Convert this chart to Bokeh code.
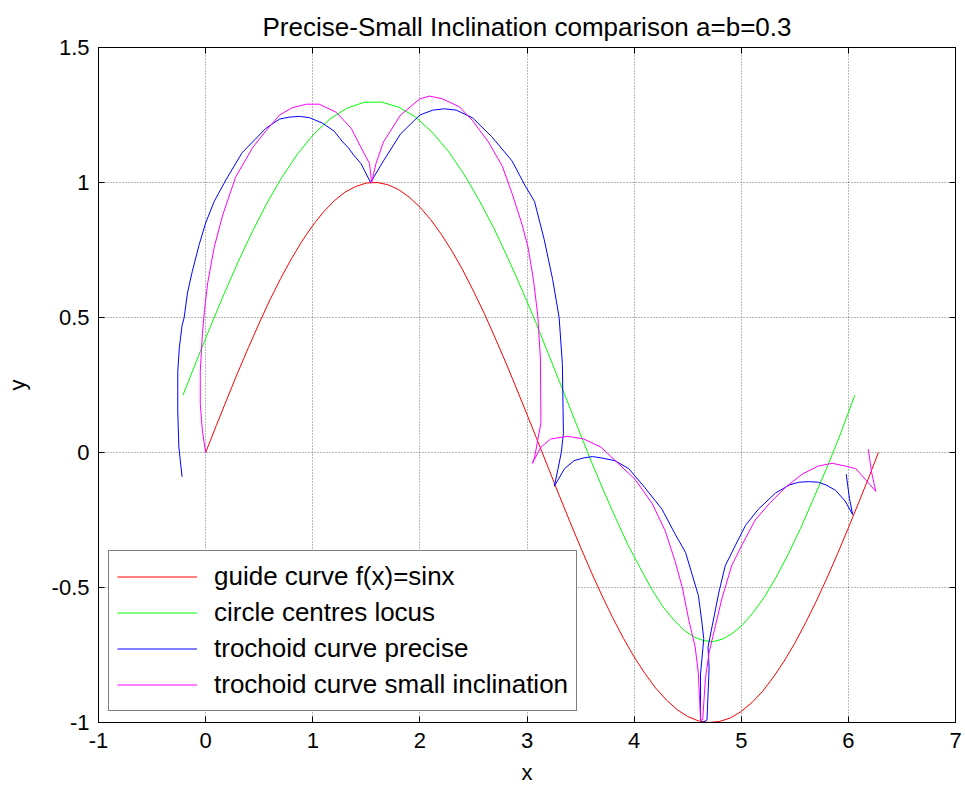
from bokeh.plotting import figure
from bokeh.models import (LinearAxis, FixedTicker, CustomJSTickFormatter, Legend,
                          LegendItem, Range1d)
from bokeh.embed import file_html
from bokeh.resources import INLINE

# ---------------- data ----------------
x_ticks = [-1, 0, 1, 2, 3, 4, 5, 6, 7]
y_ticks = [-1, -0.5, 0, 0.5, 1, 1.5]

guide_x = [0.0, 0.1, 0.2, 0.3, 0.4, 0.5, 0.6, 0.7, 0.8, 0.9, 1.0, 1.1, 1.2, 1.3, 1.4,
           1.5, 1.6, 1.7, 1.8, 1.9, 2.0, 2.1, 2.2, 2.3, 2.4, 2.5, 2.6, 2.7, 2.8, 2.9,
           3.0, 3.1, 3.2, 3.3, 3.4, 3.5, 3.6, 3.7, 3.8, 3.9, 4.0, 4.1, 4.2, 4.3, 4.4,
           4.5, 4.6, 4.7, 4.8, 4.9, 5.0, 5.1, 5.2, 5.3, 5.4, 5.5, 5.6, 5.7, 5.8, 5.9,
           6.0, 6.1, 6.2, 6.28]
guide_y = [0.0, 0.1, 0.199, 0.296, 0.389, 0.479, 0.565, 0.644, 0.717, 0.783, 0.841,
           0.891, 0.932, 0.964, 0.985, 0.998, 1.0, 0.992, 0.974, 0.946, 0.909, 0.863,
           0.808, 0.746, 0.676, 0.598, 0.516, 0.427, 0.335, 0.239, 0.141, 0.042,
           -0.058, -0.158, -0.256, -0.351, -0.443, -0.53, -0.612, -0.688, -0.757,
           -0.818, -0.872, -0.916, -0.952, -0.978, -0.994, -1.0, -0.996, -0.983,
           -0.959, -0.926, -0.884, -0.832, -0.773, -0.706, -0.631, -0.551, -0.465,
           -0.374, -0.279, -0.182, -0.083, 0.0]

centre_x = [-0.212, -0.086, 0.041, 0.171, 0.302, 0.436, 0.573, 0.713, 0.857, 1.006,
            1.160, 1.318, 1.479, 1.641, 1.803, 1.961, 2.115, 2.265, 2.410, 2.550,
            2.688, 2.822, 2.954, 3.083, 3.211, 3.337, 3.461, 3.584, 3.705, 3.824,
            3.940, 4.054, 4.164, 4.270, 4.372, 4.469, 4.562, 4.651, 4.739, 4.827,
            4.918, 5.013, 5.113, 5.218, 5.327, 5.439, 5.554, 5.672, 5.792, 5.914,
            6.060]
centre_y = [0.212, 0.338, 0.463, 0.586, 0.705, 0.818, 0.924, 1.020, 1.105, 1.178,
            1.235, 1.275, 1.297, 1.298, 1.279, 1.242, 1.186, 1.116, 1.032, 0.937,
            0.833, 0.720, 0.602, 0.481, 0.354, 0.229, 0.105, -0.018, -0.132, -0.240,
            -0.340, -0.426, -0.506, -0.572, -0.621, -0.659, -0.684, -0.697, -0.700,
            -0.691, -0.670, -0.638, -0.592, -0.534, -0.461, -0.376, -0.281, -0.173,
            -0.063, 0.056, 0.212]

precise_x = [-0.22, -0.25, -0.26, -0.26, -0.245, -0.22, -0.20, -0.17, -0.125, -0.06,
             0.0, 0.08, 0.19, 0.34, 0.56, 0.69, 0.78, 0.875, 0.97, 1.09, 1.20, 1.28,
             1.33, 1.375, 1.45, 1.54, 1.66, 1.82, 2.00, 2.12, 2.23, 2.34, 2.49, 2.67,
             2.86, 2.98, 3.07, 3.16, 3.24, 3.30, 3.33, 3.34, 3.32, 3.29, 3.255, 3.35,
             3.44, 3.53, 3.61, 3.69, 3.82, 3.95, 4.10, 4.26, 4.38, 4.48, 4.54, 4.60,
             4.63, 4.65, 4.62, 4.62, 4.64, 4.68, 4.70, 4.69, 4.73, 4.79, 4.85, 4.95,
             5.04, 5.16, 5.32, 5.45, 5.54, 5.63, 5.72, 5.79, 5.88, 5.97, 6.04, 6.01,
             5.98]
precise_y = [-0.09, 0.02, 0.15, 0.30, 0.39, 0.47, 0.50, 0.59, 0.67, 0.77, 0.85, 0.93,
             1.01, 1.11, 1.20, 1.235, 1.242, 1.245, 1.24, 1.22, 1.19, 1.15, 1.13,
             1.105, 1.07, 1.00, 1.08, 1.18, 1.25, 1.268, 1.273, 1.268, 1.24, 1.17,
             1.08, 0.99, 0.93, 0.79, 0.64, 0.50, 0.33, 0.07, 0.0, -0.06, -0.125,
             -0.06, -0.03, -0.02, -0.015, -0.02, -0.03, -0.06, -0.13, -0.21, -0.30,
             -0.37, -0.45, -0.53, -0.62, -0.69, -0.82, -0.99, -1.0, -0.99, -0.80,
             -0.72, -0.64, -0.52, -0.42, -0.34, -0.27, -0.21, -0.15, -0.12, -0.11,
             -0.108, -0.11, -0.12, -0.14, -0.18, -0.23, -0.17, -0.08]

small_x = [0.0, -0.03, -0.05, -0.05, -0.03, -0.01, 0.02, 0.08, 0.16, 0.28, 0.44, 0.56,
           0.69, 0.81, 0.94, 1.06, 1.22, 1.36, 1.45, 1.53, 1.55, 1.59, 1.66, 1.82,
           2.00, 2.09, 2.21, 2.37, 2.49, 2.64, 2.77, 2.86, 2.95, 3.01, 3.06, 3.10,
           3.125, 3.13, 3.07, 3.05, 3.13, 3.22, 3.38, 3.53, 3.69, 3.85, 4.01, 4.17,
           4.29, 4.38, 4.45, 4.51, 4.57, 4.60, 4.62, 4.64, 4.665, 4.70, 4.76, 4.82,
           4.91, 5.01, 5.13, 5.26, 5.41, 5.57, 5.72, 5.85, 5.97, 6.07, 6.16, 6.256,
           6.22, 6.19, 6.185]
small_y = [0.0, 0.08, 0.18, 0.30, 0.44, 0.53, 0.63, 0.76, 0.88, 1.02, 1.13, 1.19,
           1.25, 1.277, 1.29, 1.29, 1.26, 1.20, 1.13, 1.07, 1.00, 1.07, 1.15, 1.25,
           1.31, 1.32, 1.31, 1.28, 1.23, 1.15, 1.06, 0.96, 0.85, 0.76, 0.64, 0.51,
           0.35, 0.11, -0.02, -0.04, 0.02, 0.05, 0.06, 0.05, 0.02, -0.04, -0.10,
           -0.19, -0.29, -0.40, -0.50, -0.62, -0.72, -0.82, -0.99, -0.99, -0.84,
           -0.74, -0.64, -0.54, -0.42, -0.34, -0.25, -0.19, -0.13, -0.08, -0.05,
           -0.04, -0.05, -0.06, -0.10, -0.144, -0.08, 0.0, 0.012]

series_names = ["guide curve f(x)=sinx", "circle centres locus",
                "trochoid curve precise", "trochoid curve small inclination"]
series_colors = ["#ff0000", "#00ff00", "#0000ff", "#ff00ff"]

FONT = "Liberation Sans"

# ---------------- figure ----------------
p = figure(width=965, height=791, output_backend="svg", toolbar_location=None,
           x_range=Range1d(-1, 7), y_range=Range1d(-1, 1.5),
           min_border_left=98, min_border_right=10, min_border_top=47,
           min_border_bottom=69, background_fill_color="white",
           border_fill_color="white")

p.title.text = "Precise-Small Inclination comparison a=b=0.3"
p.title.align = "center"
p.title.text_font = FONT
p.title.text_font_size = "26px"
p.title.text_font_style = "normal"
p.title.text_color = "black"
p.title.standoff = 12

fmt = CustomJSTickFormatter(code="return tick.toString();")

for ax in p.xaxis:
    ax.ticker = FixedTicker(ticks=x_ticks)
for ax in p.yaxis:
    ax.ticker = FixedTicker(ticks=y_ticks)

for ax in list(p.xaxis) + list(p.yaxis):
    ax.formatter = fmt
    ax.major_tick_in = 6
    ax.major_tick_out = 0
    ax.minor_tick_line_color = None
    ax.axis_line_color = "black"
    ax.major_tick_line_color = "black"
    ax.major_label_text_font = FONT
    ax.major_label_text_font_size = "22px"
    ax.major_label_text_color = "black"
    ax.axis_label_text_font = FONT
    ax.axis_label_text_font_size = "22px"
    ax.axis_label_text_font_style = "normal"
    ax.axis_label_text_color = "black"

p.xaxis.major_label_standoff = 10
p.yaxis.major_label_standoff = 9
p.xaxis.axis_label = "x"
p.yaxis.axis_label = "y"
p.yaxis.axis_label_standoff = 19
p.xaxis.axis_label_standoff = 9

# mirrored tick marks on the top and right edges (box style), no labels
top_ax = LinearAxis(ticker=FixedTicker(ticks=x_ticks), major_tick_in=6, major_tick_out=0,
                    minor_tick_line_color=None, major_label_text_color=None,
                    major_label_text_font_size="1px", major_label_standoff=0,
                    axis_line_color="black")
right_ax = LinearAxis(ticker=FixedTicker(ticks=y_ticks), major_tick_in=6, major_tick_out=0,
                      minor_tick_line_color=None, major_label_text_color=None,
                      major_label_text_font_size="1px", major_label_standoff=0,
                      axis_line_color="black")
p.add_layout(top_ax, "above")
p.add_layout(right_ax, "right")

p.outline_line_color = "black"

for g in (p.xgrid, p.ygrid):
    g.grid_line_color = "black"
    g.grid_line_alpha = 0.55
    g.grid_line_dash = "1 2"
    g.grid_line_width = 1
    g.minor_grid_line_color = None

data = [(guide_x, guide_y), (centre_x, centre_y), (precise_x, precise_y), (small_x, small_y)]
renderers = []
for (xs, ys), c in zip(data, series_colors):
    r = p.line(xs, ys, line_color=c, line_width=1)
    renderers.append(r)

legend = Legend(items=[LegendItem(label=n, renderers=[r]) for n, r in zip(series_names, renderers)],
                location=(10, 11), label_text_font=FONT, label_text_font_size="26px",
                label_text_color="black", glyph_width=80, glyph_height=21, label_height=35,
                spacing=1, padding=8, label_standoff=17, border_line_color="black",
                border_line_width=1, background_fill_color="white", background_fill_alpha=1.0,
                margin=0)
p.add_layout(legend, "center")

open("out.html", "w").write(file_html(p, INLINE))
